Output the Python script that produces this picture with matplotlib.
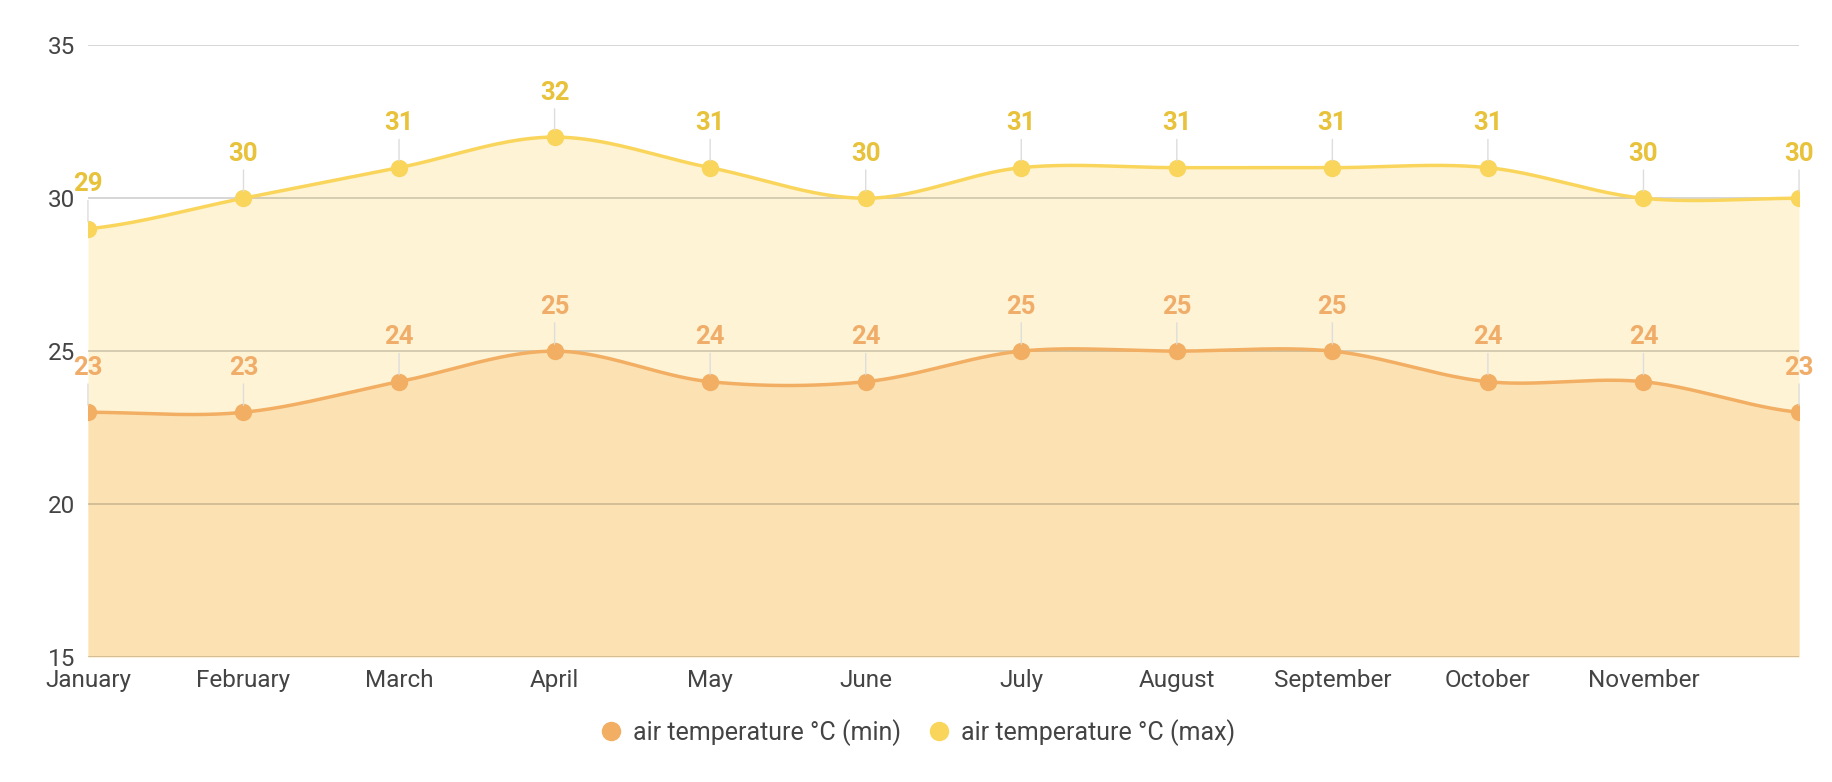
import numpy as np
import matplotlib
matplotlib.use('Agg')
import matplotlib.pyplot as plt
from matplotlib.lines import Line2D

months = ['January', 'February', 'March', 'April', 'May', 'June', 'July',
          'August', 'September', 'October', 'November', 'December']
temp_min = [23, 23, 24, 25, 24, 24, 25, 25, 25, 24, 24, 23]
temp_max = [29, 30, 31, 32, 31, 30, 31, 31, 31, 31, 30, 30]
min_label = 'air temperature °C (min)'
max_label = 'air temperature °C (max)'

min_color = '#F2AE62'
max_color = '#FAD55C'
min_fill = '#FCE2B3'
max_fill = '#FEF3D4'
min_text = '#F0AD6A'
max_text = '#E8C23A'

plt.rcParams['font.family'] = ['Roboto', 'DejaVu Sans']


def smooth(y, n=40):
    # cubic hermite through points, catmull-rom tangents
    y = np.asarray(y, dtype=float)
    m = np.zeros_like(y)
    m[1:-1] = (y[2:] - y[:-2]) / 2
    m[0] = (y[1] - y[0]) / 2
    m[-1] = (y[-1] - y[-2]) / 2
    xs, ys = [], []
    for i in range(len(y) - 1):
        t = np.linspace(0, 1, n, endpoint=False)
        h00 = 2 * t**3 - 3 * t**2 + 1
        h10 = t**3 - 2 * t**2 + t
        h01 = -2 * t**3 + 3 * t**2
        h11 = t**3 - t**2
        xs.append(i + t)
        ys.append(h00 * y[i] + h10 * m[i] + h01 * y[i + 1] + h11 * m[i + 1])
    xs.append([len(y) - 1])
    ys.append([y[-1]])
    return np.concatenate(xs), np.concatenate(ys)


fig = plt.figure(figsize=(18.32, 7.82), dpi=100)
ax = fig.add_axes([0.048, 0.160, 0.934, 0.782])

x = np.arange(len(months))
for vals, col, fcol, tcol, z in [(temp_max, max_color, max_fill, max_text, 2),
                                 (temp_min, min_color, min_fill, min_text, 3)]:
    sx, sy = smooth(vals)
    ax.fill_between(sx, 15, sy, color=fcol, lw=0, zorder=z)
    ax.plot(sx, sy, color=col, lw=2.5, zorder=z + 3, solid_capstyle='round')
    ax.plot(x, vals, 'o', color=col, ms=12.5, mew=0, zorder=z + 3)
    for xi, v in zip(x, vals):
        ax.annotate(str(v), xy=(xi, v), xytext=(0, 32), textcoords='offset points',
                    ha='center', va='center', fontsize=18.5, fontweight='bold', color=tcol,
                    arrowprops=dict(arrowstyle='-', color='#dddddd', lw=1, shrinkA=1, shrinkB=5),
                    zorder=10)

ax.set_xlim(0, len(months) - 1)
ax.set_ylim(15, 35)
yticks = [15, 20, 25, 30, 35]
ax.set_yticks(yticks)
ax.set_xticks(x[:-1])
ax.set_xticklabels(months[:-1])
for yv in yticks:
    ax.axhline(yv, color='black', alpha=0.19, lw=1.2, zorder=4.5)
for s in ax.spines.values():
    s.set_visible(False)
ax.tick_params(length=0, labelsize=17.5, labelcolor='#444444')
ax.tick_params(axis='y', pad=9)
ax.tick_params(axis='x', pad=9)

handles = [Line2D([], [], marker='o', ls='', color=min_color, ms=14, mew=0),
           Line2D([], [], marker='o', ls='', color=max_color, ms=14, mew=0)]
fig.legend(handles, [min_label, max_label], loc='center', bbox_to_anchor=(0.501, 0.063),
           ncol=2, frameon=False, fontsize=18, handlelength=0.8, handletextpad=0.5,
           columnspacing=1.1, labelcolor='#444444')

fig.savefig('out.png', dpi=100)
